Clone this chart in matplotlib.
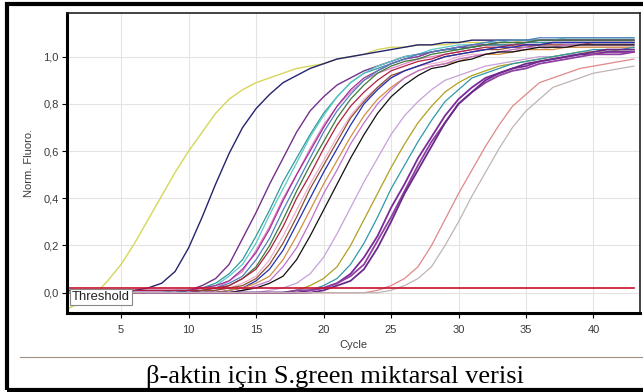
import matplotlib
matplotlib.use("Agg")
import matplotlib.pyplot as plt
from matplotlib.patches import Rectangle
from matplotlib.lines import Line2D
from matplotlib.ticker import FuncFormatter

plt.rcParams["font.family"] = ["Liberation Sans", "DejaVu Sans"]

# amplification curves, cycles 1..43, values in hundredths of Norm. Fluoro.
cycles = list(range(1, 44))

yellow = [-7, -4, -1, 5, 12, 21, 31, 41, 51, 60, 68, 76, 82, 86, 89, 91, 93, 95, 96, 97, 99, 100,
          101, 103, 104, 104, 105, 105, 105, 106, 106, 106, 106, 106, 107, 107, 107, 107, 107, 107,
          107, 107, 107]
navy = [0, 0, 0, 0, 0, 1, 2, 4, 9, 19, 32, 46, 59, 70, 78, 84, 89, 92, 95, 97, 99, 100, 101, 102,
        103, 104, 105, 105, 106, 106, 107, 107, 107, 107, 107, 107, 107, 107, 107, 107, 107, 107, 107]
purple = [0, 0, 0, 0, 0, 0, 0, 0, 0, 1, 3, 6, 12, 23, 34, 46, 57, 68, 77, 83, 88, 91, 94, 96, 98,
          100, 101, 102, 103, 104, 104, 105, 105, 105, 106, 106, 106, 106, 106, 106, 106, 106, 106]
teal = [0, 0, 0, 0, 0, 0, 0, 0, 0, 1, 2, 4, 8, 14, 24, 35, 47, 57, 67, 76, 83, 89, 93, 95, 97, 99,
        100, 102, 103, 103, 104, 105, 105, 105, 106, 106, 106, 106, 106, 106, 106, 106, 106]
cyan = [0, 0, 0, 0, 0, 0, 0, 0, 1, 1, 2, 3, 7, 12, 21, 33, 44, 55, 66, 75, 83, 89, 93, 96, 98, 100,
        101, 103, 104, 105, 105, 106, 106, 107, 107, 107, 107, 108, 108, 108, 108, 108, 108]
pink = [0, 0, 0, 0, 0, 0, 0, 0, 0, 0, 1, 2, 5, 9, 18, 28, 40, 50, 61, 71, 79, 85, 90, 93, 95, 97,
        99, 100, 101, 102, 103, 103, 104, 104, 105, 105, 105, 105, 105, 105, 105, 105, 105]
magenta = [1, 1, 1, 1, 1, 1, 1, 1, 1, 1, 2, 3, 5, 10, 17, 27, 39, 50, 60, 70, 79, 86, 91, 94, 97,
           99, 100, 102, 103, 104, 105, 105, 106, 106, 106, 107, 107, 107, 107, 107, 107, 107, 107]
steel = [0, 0, 0, 0, 0, 0, 0, 0, 0, 0, 1, 2, 4, 7, 14, 23, 35, 46, 57, 68, 77, 84, 90, 94, 97, 99,
         101, 102, 103, 104, 105, 106, 107, 107, 107, 108, 108, 108, 108, 108, 108, 108, 108]
green = [0, 0, 0, 0, 0, 0, 0, 0, 0, 0, 0, 1, 3, 6, 11, 20, 31, 43, 54, 64, 74, 82, 88, 93, 96, 98,
         99, 101, 102, 103, 104, 105, 106, 106, 106, 107, 107, 107, 107, 107, 107, 107, 107]
red = [1, 1, 1, 1, 1, 1, 1, 1, 1, 1, 1, 2, 3, 6, 10, 18, 28, 40, 50, 61, 71, 79, 85, 90, 94, 96, 98,
       99, 101, 102, 103, 104, 104, 105, 105, 105, 106, 106, 106, 106, 106, 106, 106]
lightpink = [0, 0, 0, 0, 0, 0, 0, 0, 0, 0, 0, 1, 2, 4, 7, 14, 24, 35, 46, 56, 66, 75, 82, 87, 91,
             94, 96, 97, 98, 100, 101, 101, 102, 103, 103, 103, 104, 104, 104, 104, 104, 104, 104]
brown = [0, 0, 0, 0, 0, 0, 0, 0, 0, 0, 1, 1, 2, 3, 6, 12, 21, 32, 44, 54, 64, 74, 81, 87, 92, 94,
         96, 98, 100, 101, 102, 103, 103, 104, 104, 105, 105, 105, 105, 106, 106, 106, 106]
blue = [0, 0, 0, 0, 0, 0, 0, 0, 0, 0, 0, 0, 1, 2, 5, 10, 18, 29, 40, 51, 61, 71, 80, 86, 91, 94, 96,
        98, 100, 101, 102, 103, 104, 104, 105, 105, 106, 106, 106, 106, 106, 106, 106]
orange = [0, 0, 0, 0, 0, 0, 0, 0, 0, 0, 0, 0, 1, 2, 4, 7, 14, 24, 35, 46, 56, 66, 75, 82, 87, 91,
          94, 96, 97, 98, 100, 101, 101, 102, 103, 103, 103, 104, 104, 104, 104, 104, 104]
violet = [0, 0, 0, 0, 0, 0, 0, 0, 0, 0, 0, 0, 0, 1, 3, 5, 11, 19, 30, 42, 52, 63, 72, 80, 86, 91,
          94, 96, 97, 99, 100, 101, 102, 103, 104, 104, 104, 105, 105, 105, 105, 105, 105]
black = [0, 0, 0, 0, 0, 0, 0, 0, 0, 0, 0, 0, 0, 1, 2, 4, 7, 14, 24, 35, 46, 57, 67, 76, 83, 88, 92,
         95, 96, 98, 99, 101, 102, 102, 103, 104, 104, 104, 105, 105, 105, 105, 105]
lavender = [0, 0, 0, 0, 0, 0, 0, 0, 0, 0, 0, 0, 0, 0, 0, 1, 2, 4, 8, 15, 25, 36, 47, 57, 67, 75,
            81, 86, 90, 92, 94, 96, 97, 98, 99, 100, 100, 101, 101, 101, 102, 102, 102]
olive = [0, 0, 0, 0, 0, 0, 0, 0, 0, 0, 0, 0, 0, 0, 0, 0, 0, 1, 3, 6, 11, 20, 31, 42, 53, 63, 72,
         79, 85, 89, 92, 94, 96, 97, 98, 99, 100, 101, 102, 102, 102, 103, 103]
teal2 = [0, 0, 0, 0, 0, 0, 0, 0, 0, 0, 0, 0, 0, 0, 0, 0, 0, 1, 1, 3, 6, 12, 21, 32, 44, 54, 64, 73,
         81, 86, 91, 93, 95, 97, 98, 99, 100, 101, 102, 103, 103, 103, 104]
purple_a = [0, 0, 0, 0, 0, 0, 0, 0, 0, 0, 0, 0, 0, 0, 0, 0, 0, 0, 1, 2, 4, 8, 15, 24, 36, 46, 57,
            66, 75, 82, 87, 91, 93, 95, 96, 98, 99, 100, 101, 101, 102, 102, 102]
purple_b = [0, 0, 0, 0, 0, 0, 0, 0, 0, 0, 0, 0, 0, 0, 0, 0, 0, 1, 1, 2, 4, 7, 12, 22, 32, 43, 54,
            64, 72, 80, 85, 89, 92, 94, 95, 97, 98, 99, 100, 101, 101, 101, 102]
purple_c = [0, 0, 0, 0, 0, 0, 0, 0, 0, 0, 0, 0, 0, 0, 0, 0, 0, 0, 0, 1, 3, 5, 10, 19, 30, 42, 52,
            62, 72, 80, 85, 90, 93, 95, 97, 98, 99, 100, 101, 102, 103, 103, 103]
salmon = [0, 0, 0, 0, 0, 0, 0, 0, 0, 0, 0, 0, 0, 0, 0, 0, 0, 0, 0, 0, 0, 0, 0, 1, 3, 6, 11, 20, 31,
          42, 52, 62, 71, 79, 84, 89, 91, 93, 95, 96, 97, 98, 99]
gray = [0, 0, 0, 0, 0, 0, 0, 0, 0, 0, 0, 0, 0, 0, 0, 0, 0, 0, 0, 0, 0, 0, 0, 0, 1, 3, 6, 11, 20, 30,
        41, 51, 61, 70, 77, 82, 87, 89, 91, 93, 94, 95, 96]

curves = [yellow, navy, purple, teal, cyan, pink, magenta, steel, green, red, lightpink, brown,
          blue, orange, violet, black, lavender, olive, teal2, purple_a, purple_b, purple_c,
          salmon, gray]
colors = ["#d6d65a", "#24246e", "#74308a", "#2e9a9a", "#5cc8c8", "#e080c0", "#a0309a", "#5080c0",
          "#3a7a3a", "#b02040", "#eeb0d0", "#905030", "#2030b0", "#d09040", "#c070d0", "#101010",
          "#c8a0d8", "#b0a020", "#3098a8", "#7a2a9a", "#9040a0", "#6a2a8a", "#e08888", "#c0b4b4"]
widths = [1.0, 1.0, 1.0] + [0.9] * 16 + [1.3, 1.3, 1.3] + [0.9, 0.9]

threshold = 0.021
xticks = [5, 10, 15, 20, 25, 30, 35, 40]
yticks = [0.0, 0.2, 0.4, 0.6, 0.8, 1.0]

fig = plt.figure(figsize=(6.43, 3.92), dpi=100)
ax = fig.add_axes([66.5 / 643, 79 / 392, 573.5 / 643, 300 / 392])

for vals, col, lw in zip(curves, colors, widths):
    ax.plot(cycles, [v / 100 for v in vals], color=col, lw=lw)

# threshold line stops at the last cycle
ax.plot([cycles[0] - 0.1, cycles[-1]], [threshold, threshold], color="#c8102e", lw=1.2)

ax.set_xlim(0.95, 43.45)
ax.set_ylim(-0.086, 1.185)
ax.set_xticks(xticks)
ax.set_yticks(yticks)
ax.yaxis.set_major_formatter(FuncFormatter(lambda v, p: f"{v:.1f}".replace(".", ",")))
ax.grid(color="#e4e4e4", lw=0.8)
ax.set_axisbelow(True)
ax.tick_params(labelsize=8, labelcolor="#3a3a3a", length=3.5, width=0.8)
ax.tick_params(axis="x", pad=5)
ax.tick_params(axis="y", pad=2)
for k in ["left", "bottom"]:
    ax.spines[k].set_linewidth(2.2)
for k in ["top", "right"]:
    ax.spines[k].set_linewidth(1.2)
    ax.spines[k].set_color("#222222")
ax.set_xlabel("Cycle", fontsize=8, color="#3a3a3a", labelpad=4)
ax.set_ylabel("Norm. Fluoro.", fontsize=8, color="#3a3a3a", labelpad=7)
ax.text(1.33, -0.02, "Threshold", fontsize=9.4, color="#222222", va="center", ha="left",
        bbox=dict(boxstyle="square,pad=0.15", fc="white", ec="#888888", lw=0.8))

# frame around the whole figure, rule and caption below the chart
fig.add_artist(Rectangle((7 / 643, 2.5 / 392), 1.2, 1 - 6 / 392, transform=fig.transFigure,
                         fill=False, ec="black", lw=3))
fig.add_artist(Line2D([20 / 643, 1], [1 - 356.5 / 392] * 2, transform=fig.transFigure,
                      color="#a09080", lw=0.8))
fig.text(335 / 643, 9 / 392, "β-aktin için S.green miktarsal verisi", family="Liberation Serif",
         fontsize=19, ha="center", va="baseline")

fig.savefig("out.png", dpi=100)
